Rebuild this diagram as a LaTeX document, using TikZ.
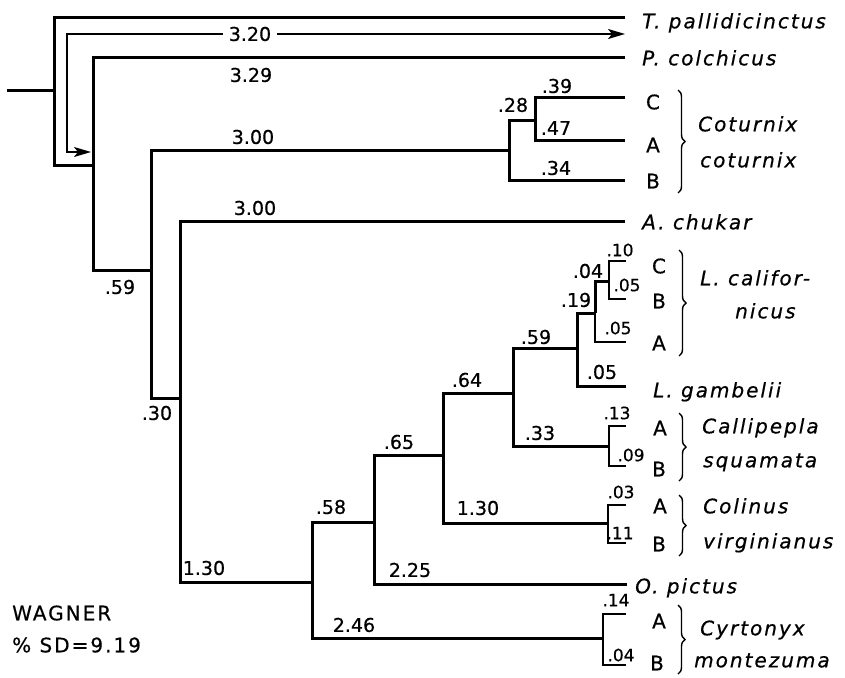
\documentclass[tikz,border=0pt]{standalone}
\usepackage{fontspec}
\setmainfont{DejaVu Sans}[FakeBold=0.6]
\newfontfamily\spfont{DejaVu Sans}[LetterSpace=10,FakeBold=0.6]
\usetikzlibrary{arrows.meta,decorations.pathreplacing}
\begin{document}
\begin{tikzpicture}[x=1pt,y=-1pt,
  br/.style={line width=3pt, line join=miter},
  tw/.style={line width=2.2pt, line join=miter},
  num/.style={font=\fontsize{19}{20}\selectfont, inner sep=0pt, text height=13.8pt, text depth=0pt},
  snum/.style={font=\fontsize{17}{18}\selectfont, inner sep=0pt, text height=12.4pt, text depth=0pt},
  sp/.style={font=\fontsize{20}{22}\selectfont\spfont\itshape, inner sep=0pt, anchor=west, text height=14.6pt, text depth=0pt},
  leaf/.style={font=\fontsize{20}{22}\selectfont\spfont, inner sep=0pt, text height=14.6pt, text depth=0pt},
  brc/.style={decorate, decoration={brace, amplitude=7pt}, line width=1.4pt}]
\useasboundingbox (0,0) rectangle (845,677);
% junctions and leaf ends
\coordinate (root) at (7,90);
\coordinate (n1) at (54,90);
\coordinate (tp) at (625,18);
\coordinate (n2) at (93,165);
\coordinate (pc) at (625,58);
\coordinate (n3) at (151,270);
\coordinate (c0) at (509,150);
\coordinate (c1) at (535,120);
\coordinate (cC) at (625,97);
\coordinate (cA) at (625,140);
\coordinate (cB) at (625,180);
\coordinate (n4) at (180,398);
\coordinate (ak) at (625,221);
\coordinate (n5) at (312,582);
\coordinate (n6) at (374,522);
\coordinate (op) at (627,584);
\coordinate (n7) at (443,455);
\coordinate (n8) at (513,393);
\coordinate (n9) at (577,348);
\coordinate (lg) at (626,386);
\coordinate (n10) at (595,313);
\coordinate (lA) at (626,342);
\coordinate (n11) at (609,281);
\coordinate (lC) at (626,261);
\coordinate (lB) at (626,299);
\coordinate (cs) at (609,446);
\coordinate (csA) at (626,426);
\coordinate (csB) at (626,466);
\coordinate (cv) at (608,523);
\coordinate (cvA) at (626,505);
\coordinate (cvB) at (626,543);
\coordinate (cm) at (603,638);
\coordinate (cmA) at (626,614);
\coordinate (cmB) at (626,665);
% branches
\draw[br] (root) -- (n1);
\draw[br] (n1) |- (tp);  \draw[br] (n1) |- (n2);
\draw[br] (n2) |- (pc);  \draw[br] (n2) |- (n3);
\draw[br] (n3) |- (c0);  \draw[br] (n3) |- (n4);
\draw[br] (c0) |- (c1);  \draw[br] (c0) |- (cB);
\draw[br] (c1) |- (cC);  \draw[br] (c1) |- (cA);
\draw[br] (n4) |- (ak);  \draw[br] (n4) |- (n5);
\draw[br] (n5) |- (n6);  \draw[br] (n5) |- (cm);
\draw[br] (n6) |- (n7);  \draw[br] (n6) |- (op);
\draw[br] (n7) |- (n8);  \draw[br] (n7) |- (cv);
\draw[br] (n8) |- (n9);  \draw[br] (n8) |- (cs);
\draw[br] (n9) |- (n10); \draw[br] (n9) |- (lg);
\draw[br] (n10) |- (n11); \draw[tw] (n10) |- (lA);
\draw[tw] (n11) |- (lC); \draw[tw] (n11) |- (lB);
\draw[tw] (cs) |- (csA); \draw[tw] (cs) |- (csB);
\draw[tw] (cv) |- (cvA); \draw[tw] (cv) |- (cvB);
\draw[tw] (cm) |- (cmA); \draw[tw] (cm) |- (cmB);
% arrow
\coordinate (a1) at (625,34);
\coordinate (a2) at (67,34);
\coordinate (a3) at (67,152);
\coordinate (a4) at (91,152);
\draw[line width=1.6pt, {Stealth[length=17pt,width=10pt,inset=4pt]}-{Stealth[length=17pt,width=10pt,inset=4pt]}] (a1) -- (a2) -- (a3) -- (a4);
% branch lengths
\node[num, fill=white, inner xsep=6pt] (l320) at (250,34) {3.20};
\node[num] (l329) at (251,75) {3.29};
\node[num] (l300a) at (253,137) {3.00};
\node[num] (l28) at (513,105) {.28};
\node[num] (l39) at (557,86) {.39};
\node[num] (l47) at (556,128) {.47};
\node[num] (l34) at (556,168) {.34};
\node[num] (l300b) at (255,208) {3.00};
\node[num] (l59a) at (120,287) {.59};
\node[num] (l30) at (157,413) {.30};
\node[num] (l130a) at (204,568) {1.30};
\node[num] (l58) at (331,507) {.58};
\node[num] (l246) at (354,625) {2.46};
\node[num] (l65) at (399,442) {.65};
\node[num] (l225) at (410,570) {2.25};
\node[num] (l64) at (467,380) {.64};
\node[num] (l130b) at (478,508) {1.30};
\node[num] (l59b) at (536,337) {.59};
\node[num] (l33) at (540,433) {.33};
\node[num] (l19) at (576,300) {.19};
\node[num] (l04a) at (588,271) {.04};
\node[snum] (l10) at (620,250) {.10};
\node[snum] (l05a) at (627,285) {.05};
\node[snum] (l05b) at (618,328) {.05};
\node[num] (l05c) at (602,372) {.05};
\node[snum] (l13) at (617,413) {.13};
\node[snum] (l09) at (631,455) {.09};
\node[snum] (l03) at (621,492) {.03};
\node[snum] (l11) at (620,533) {.11};
\node[snum] (l14) at (616,600) {.14};
\node[snum] (l04b) at (621,655) {.04};
% leaf letters
\node[leaf] (tC1) at (653,102) {C};
\node[leaf] (tA1) at (653,145) {A};
\node[leaf] (tB1) at (653,181) {B};
\node[leaf] (tC2) at (659,266) {C};
\node[leaf] (tB2) at (659,301) {B};
\node[leaf] (tA2) at (659,343) {A};
\node[leaf] (tA3) at (660,428) {A};
\node[leaf] (tB3) at (659,469) {B};
\node[leaf] (tA4) at (660,506) {A};
\node[leaf] (tB4) at (659,544) {B};
\node[leaf] (tA5) at (659,621) {A};
\node[leaf] (tB5) at (657,663) {B};
% species names
\node[sp] (tpn) at (642,21) {T. pallidicinctus};
\node[sp] (pcn) at (642,58) {P. colchicus};
\node[sp] (cot1) at (698,124) {Coturnix};
\node[sp] (cot2) at (700,160) {coturnix};
\node[sp] (akn) at (642,222) {A. chukar};
\node[sp] (lc1) at (700,278) {L. califor-};
\node[sp] (lc2) at (735,311) {nicus};
\node[sp] (lgn) at (653,390) {L. gambelii};
\node[sp] (cs1) at (702,426) {Callipepla};
\node[sp] (cs2) at (703,460) {squamata};
\node[sp] (cv1) at (703,506) {Colinus};
\node[sp] (cv2) at (703,541) {virginianus};
\node[sp] (opn) at (635,586) {O. pictus};
\node[sp] (cm1) at (700,628) {Cyrtonyx};
\node[sp] (cm2) at (694,660) {montezuma};
% braces
\coordinate (b1t) at (678,90);  \coordinate (b1b) at (678,193);
\coordinate (b2t) at (679,250); \coordinate (b2b) at (679,356);
\coordinate (b3t) at (679,413); \coordinate (b3b) at (679,481);
\coordinate (b4t) at (679,495); \coordinate (b4b) at (679,556);
\coordinate (b5t) at (678,605); \coordinate (b5b) at (678,674);
\draw[brc] (b1t) -- (b1b);
\draw[brc] (b2t) -- (b2b);
\draw[brc] (b3t) -- (b3b);
\draw[brc] (b4t) -- (b4b);
\draw[brc] (b5t) -- (b5b);
% legend
\node[leaf, anchor=west] (wag) at (12,613) {WAGNER};
\node[leaf, anchor=west] (sd) at (12,645) {\% SD=9.19};
\end{tikzpicture}
\end{document}
